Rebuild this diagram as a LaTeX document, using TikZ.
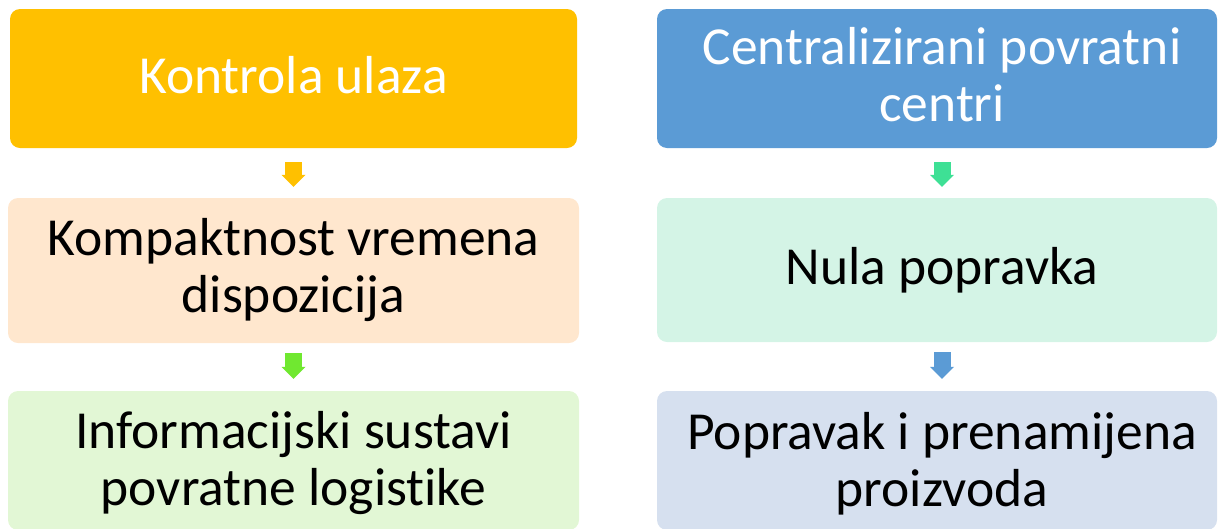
\documentclass[tikz,border=0pt]{standalone}
\usepackage{fontspec}
\setmainfont{Carlito}[Ligatures=NoCommon]
\usetikzlibrary{arrows.meta,calc}
\definecolor{cOrange}{HTML}{FFC000}
\definecolor{cPeach}{HTML}{FFE7CE}
\definecolor{cLGreen}{HTML}{E2F7D5}
\definecolor{cBlue}{HTML}{5B9BD5}
\definecolor{cMint}{HTML}{D4F4E6}
\definecolor{cLBlue}{HTML}{D6E0EF}
\definecolor{aGreen}{HTML}{70E830}
\definecolor{aMint}{HTML}{3EE095}
\begin{document}
\begin{tikzpicture}[x=1pt,y=-1pt,
  box/.style={rounded corners=10pt, inner sep=0pt},
  lbox/.style={box, minimum width=571pt, minimum height=139pt},
  rbox/.style={box, minimum width=560pt, minimum height=139pt},
  txt/.style={inner sep=0pt, align=center, font=\fontsize{53.5}{57}\selectfont, text=black},
  blockarrow/.style={line width=17pt, -{Triangle[width=24pt,length=12pt,line width=0pt]}}]
\useasboundingbox (0,0) rectangle (1218,528);
% boxes
\node[lbox, fill=cOrange, minimum width=567pt] (a) at (293.5,78.5) {};
\node[lbox, fill=cPeach, minimum height=145pt] (b) at (293.5,270.5) {};
\node[lbox, fill=cLGreen] (c) at (293.5,460.5) {};
\node[rbox, fill=cBlue] (d) at (937,78.5) {};
\node[rbox, fill=cMint, minimum height=144pt] (e) at (937,270) {};
\node[rbox, fill=cLBlue] (f) at (937,460.5) {};
% texts
\node[txt, text=white] (at) at ($(a.center)+(0,-3.5)$) {Kontrola ulaza};
\node[txt] (bt) at (b.center) {Kompaktnost vremena\\dispozicija};
\node[txt] (ct) at ($(c.center)+(0,3)$) {Informacijski sustavi\\povratne logistike};
\node[txt, text=white] (dt) at ($(d.center)+(5,-3.5)$) {Centralizirani povratni\\centri};
\node[txt] (et) at ($(e.center)+(5,0)$) {Nula popravka};
\node[txt] (ft) at ($(f.center)+(5,3)$) {Popravak i prenamijena\\proizvoda};
% arrows
\draw[blockarrow, cOrange] ($(a.south)+(0,14)$) -- ($(b.north)+(0,-11)$);
\draw[blockarrow, aGreen] ($(b.south)+(0,10)$) -- ($(c.north)+(0,-12)$);
\draw[blockarrow, aMint] ($(d.south)+(5,14)$) -- ($(e.north)+(5,-11)$);
\draw[blockarrow, cBlue] ($(e.south)+(5,10)$) -- ($(f.north)+(5,-12)$);
\end{tikzpicture}
\end{document}
